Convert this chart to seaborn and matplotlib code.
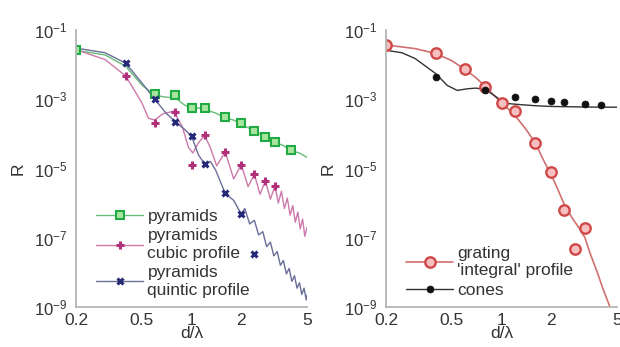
import matplotlib
matplotlib.use("Agg")
from matplotlib import pyplot as plt
from matplotlib.lines import Line2D
import seaborn as sns
import numpy as np

# ---- data -----------------------------------------------------------------
# left panel: pyramids (green squares)
green_mx = [0.2, 0.6, 0.8, 1.0, 1.2, 1.6, 2.0, 2.4, 2.8, 3.2, 4.0]
green_my = [2.6e-2, 1.4e-3, 1.3e-3, 5.5e-4, 5.5e-4, 3.0e-4, 2.0e-4, 1.2e-4, 8.3e-5, 5.9e-5, 3.4e-5]
green_lx = [0.2, 0.3, 0.4, 0.5, 0.6, 0.7, 0.8, 0.9, 1.0, 1.1, 1.2, 1.4, 1.6, 1.8, 2.0,
            2.2, 2.4, 2.6, 2.8, 3.0, 3.2, 3.6, 4.0, 4.5, 5.0]
green_ly = [2.6e-2, 1.9e-2, 9.0e-3, 2.6e-3, 1.3e-3, 1.15e-3, 1.1e-3, 7.0e-4, 5.3e-4, 5.6e-4,
            5.1e-4, 4.0e-4, 2.9e-4, 2.5e-4, 1.9e-4, 1.5e-4, 1.15e-4, 1.0e-4, 8.0e-5, 7.0e-5,
            5.7e-5, 4.6e-5, 3.3e-5, 2.8e-5, 2.1e-5]

# pyramids, cubic profile (magenta plus)
cubic_mx = [0.4, 0.6, 0.8, 1.0, 1.2, 1.6, 2.0, 2.4, 2.8, 3.2]
cubic_my = [4.7e-3, 2.0e-4, 4.4e-4, 1.3e-5, 9.0e-5, 3.0e-5, 1.3e-5, 6.8e-6, 4.4e-6, 3.1e-6]
cubic_lx = [0.2, 0.3, 0.4, 0.5, 0.55, 0.6, 0.67, 0.78, 0.88, 0.96, 1.02, 1.1, 1.2, 1.3,
            1.42, 1.6, 1.8, 2.0, 2.2, 2.4, 2.6, 2.8, 3.0, 3.2, 3.35, 3.5, 3.65, 3.8,
            3.95, 4.1, 4.25, 4.4, 4.55, 4.7, 4.85, 5.0]
cubic_ly = [2.7e-2, 1.4e-2, 4.7e-3, 8.0e-4, 2.8e-4, 2.5e-4, 3.8e-4, 4.5e-4, 1.6e-4, 4.0e-5,
            2.8e-5, 5.5e-5, 9.0e-5, 4.0e-5, 1.2e-5, 3.0e-5, 5.0e-6, 1.3e-5, 3.0e-6, 6.8e-6,
            1.8e-6, 4.4e-6, 1.3e-6, 3.1e-6, 1.0e-6, 2.2e-6, 7.0e-7, 1.4e-6, 4.5e-7, 8.5e-7,
            2.8e-7, 5.5e-7, 1.8e-7, 3.5e-7, 1.1e-7, 2.0e-7]

# pyramids, quintic profile (navy cross)
quint_mx = [0.4, 0.6, 0.8, 1.0, 1.2, 1.6, 2.0, 2.4]
quint_my = [1.1e-2, 1.0e-3, 2.2e-4, 8.7e-5, 1.35e-5, 1.9e-6, 4.8e-7, 3.5e-8]
quint_lx = [0.2, 0.3, 0.4, 0.5, 0.6, 0.7, 0.8, 0.9, 1.0, 1.1, 1.2, 1.3, 1.4, 1.6, 1.8,
            2.0, 2.1, 2.25, 2.4, 2.55, 2.7, 2.85, 3.0, 3.15, 3.3, 3.45, 3.6, 3.75, 3.9,
            4.05, 4.2, 4.35, 4.5, 4.65, 4.8, 4.95, 5.0]
quint_ly = [3.0e-2, 2.2e-2, 1.1e-2, 3.0e-3, 1.0e-3, 4.0e-4, 2.2e-4, 1.4e-4, 8.7e-5, 2.5e-5,
            1.35e-5, 1.6e-5, 9.0e-6, 1.9e-6, 1.2e-6, 4.8e-7, 7.0e-7, 2.5e-7, 3.2e-7, 1.2e-7,
            1.5e-7, 5.5e-8, 7.5e-8, 3.0e-8, 4.0e-8, 1.6e-8, 2.2e-8, 9.0e-9, 1.3e-8, 5.5e-9,
            8.0e-9, 3.5e-9, 5.0e-9, 2.3e-9, 3.5e-9, 1.6e-9, 2.2e-9]

# right panel: grating 'integral' profile (red circles)
grat_mx = [0.2, 0.4, 0.6, 0.8, 1.0, 1.2, 1.6, 2.0, 2.4, 2.8, 3.2]
grat_my = [3.7e-2, 2.1e-2, 7.3e-3, 2.3e-3, 7.9e-4, 4.7e-4, 5.5e-5, 8.0e-6, 6.3e-7, 4.7e-8, 1.9e-7]
grat_lx = [0.2, 0.3, 0.4, 0.5, 0.6, 0.7, 0.8, 0.9, 1.0, 1.2, 1.4, 1.6, 1.8, 2.0, 2.2,
           2.4, 2.7, 3.0, 3.2, 3.44, 3.8, 4.1, 4.5, 4.8]
grat_ly = [3.7e-2, 2.9e-2, 2.1e-2, 1.3e-2, 7.3e-3, 4.2e-3, 2.3e-3, 1.3e-3, 8.0e-4, 3.5e-4,
           1.4e-4, 5.5e-5, 1.7e-5, 6.5e-6, 2.4e-6, 9.0e-7, 3.5e-7, 1.7e-7, 1.0e-7, 3.5e-8,
           1.0e-8, 3.5e-9, 1.1e-9, 4.0e-10]

# cones (black dots)
cone_mx = [0.4, 0.8, 1.2, 1.6, 2.0, 2.4, 3.2, 4.0]
cone_my = [4.5e-3, 1.8e-3, 1.2e-3, 1.0e-3, 9.1e-4, 8.5e-4, 7.2e-4, 6.8e-4]
cone_lx = [0.2, 0.25, 0.3, 0.4, 0.47, 0.54, 0.62, 0.7, 0.8, 0.9, 1.0, 1.1, 1.3, 1.6,
           2.0, 3.0, 4.0, 5.0]
cone_ly = [2.6e-2, 2.2e-2, 1.5e-2, 5.5e-3, 2.5e-3, 1.8e-3, 2.0e-3, 2.1e-3, 1.9e-3, 1.3e-3,
           9.0e-4, 7.5e-4, 7.0e-4, 6.5e-4, 6.2e-4, 6.0e-4, 5.9e-4, 5.9e-4]

xticks = [0.2, 0.5, 1, 2, 5]
xticklabels = ["0.2", "0.5", "1", "2", "5"]
yticks = [1e-9, 1e-7, 1e-5, 1e-3, 1e-1]
yticklabels = [r"$10^{-9}$", r"$10^{-7}$", r"$10^{-5}$", r"$10^{-3}$", r"$10^{-1}$"]

# ---- style -----------------------------------------------------------------
sns.set_style("white")
plt.rcParams["font.family"] = ["Liberation Sans", "DejaVu Sans"]
plt.rcParams["mathtext.default"] = "regular"

txt = "#333333"
green, green_l, green_f = "#22aa44", "#66bb77", "#a8e6a0"
mag, mag_l = "#b0307a", "#cc7aaa"
navy, navy_l = "#262a78", "#6a6e98"
red, red_l, red_f = "#d04848", "#d07070", "#f6c0c0"

fig = plt.figure(figsize=(6.2, 3.47), dpi=100)
ax1 = fig.add_axes([76 / 620, 1 - 307 / 347, 231 / 620, 277 / 347])
ax2 = fig.add_axes([386 / 620, 1 - 307 / 347, 231 / 620, 277 / 347])


def draw_line(ax, x, y, color, lw=1.0):
    sns.lineplot(x=x, y=y, ax=ax, color=color, lw=lw, estimator=None, sort=False)


def draw_marks(ax, x, y, marker, color, face, ms, mew):
    sns.lineplot(x=x, y=y, ax=ax, estimator=None, sort=False, linestyle="none",
                 marker=marker, markersize=ms, markeredgecolor=color,
                 markerfacecolor=face, markeredgewidth=mew, color=color)


# marker looks shared by plot and legend
sq = dict(marker="s", ms=5.2, mec=green, mfc=green_f, mew=1.5)
pl = dict(marker="+", ms=6, mec=mag, mfc=mag, mew=2.2)
cr = dict(marker="x", ms=4.5, mec=navy, mfc=navy, mew=2.2)
ci = dict(marker="o", ms=7.5, mec=red, mfc=red_f, mew=1.7)
dt = dict(marker="o", ms=5, mec="#111111", mfc="#111111", mew=0.5)

# left panel
draw_line(ax1, green_lx, green_ly, green_l)
draw_line(ax1, cubic_lx, cubic_ly, mag_l)
draw_line(ax1, quint_lx, quint_ly, navy_l)
for (mx, my, st) in [(green_mx, green_my, sq), (cubic_mx, cubic_my, pl), (quint_mx, quint_my, cr)]:
    draw_marks(ax1, mx, my, st["marker"], st["mec"], st["mfc"], st["ms"], st["mew"])

# right panel
draw_line(ax2, grat_lx, grat_ly, red_l, 1.2)
draw_line(ax2, cone_lx, cone_ly, "#333333")
for (mx, my, st) in [(grat_mx, grat_my, ci), (cone_mx, cone_my, dt)]:
    draw_marks(ax2, mx, my, st["marker"], st["mec"], st["mfc"], st["ms"], st["mew"])

for ax in (ax1, ax2):
    ax.set_xscale("log")
    ax.set_yscale("log")
    ax.set_xlim(0.2, 5)
    ax.set_ylim(1e-9, 1e-1)
    ax.set_xticks(xticks)
    ax.set_xticklabels(xticklabels)
    ax.set_yticks(yticks)
    ax.set_yticklabels(yticklabels)
    ax.minorticks_off()
    ax.tick_params(axis="x", direction="in", length=3, color="#999999",
                   labelsize=12.5, labelcolor=txt, pad=4)
    ax.tick_params(axis="y", direction="in", length=3, color="#999999",
                   labelsize=12, labelcolor=txt, pad=6)
    for side in ("top", "right"):
        ax.spines[side].set_visible(False)
    for side in ("left", "bottom"):
        ax.spines[side].set_color("#b5b5b5")
        ax.spines[side].set_linewidth(1.3)
    ax.set_xlabel("d/λ", fontsize=12.5, color=txt, labelpad=-1)
    ax.set_ylabel("R", fontsize=12.5, color=txt, labelpad=6)

leg_kw = dict(loc="lower left", bbox_to_anchor=(0.035, -0.01), frameon=False, fontsize=12.5,
              handlelength=2.7, handletextpad=0.25, labelspacing=0.25, borderpad=0.2,
              labelcolor=txt)

h1 = [Line2D([], [], color=green_l, lw=1, **sq),
      Line2D([], [], color=mag_l, lw=1, **pl),
      Line2D([], [], color=navy_l, lw=1, **cr)]
ax1.legend(h1, ["pyramids", "pyramids\ncubic profile", "pyramids\nquintic profile"], **leg_kw)

h2 = [Line2D([], [], color=red_l, lw=1.2, **ci),
      Line2D([], [], color="#333333", lw=1, **dt)]
ax2.legend(h2, ["grating\n'integral' profile", "cones"], **leg_kw)

fig.savefig("out.png", dpi=100)
